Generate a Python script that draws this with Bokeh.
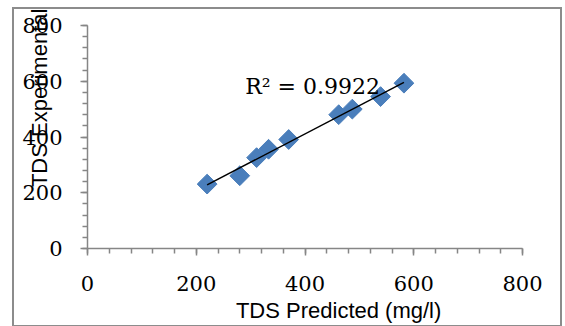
import numpy as np
from bokeh.plotting import figure
from bokeh.models import Label, Range1d, SingleIntervalTicker
from bokeh.embed import file_html
from bokeh.resources import INLINE

# Data
tds_predicted = [220, 280, 311, 333, 370, 462, 487, 539, 582]
tds_experimental = [231, 261, 326, 356, 391, 480, 500, 545, 593]
r2_text = "R\u00b2 = 0.9922"
x_title = "TDS Predicted (mg/l)"
y_title = "TDS Experimental (mg/l)"

NB = "\u00a0"

p = figure(width=546, height=316, output_backend="svg", toolbar_location=None,
           x_range=Range1d(0, 800), y_range=Range1d(0, 800),
           min_border_left=73, min_border_right=38, min_border_top=16,
           min_border_bottom=75)
p.margin = (9, 3, 1, 14)
p.styles = {"outline": "2px solid #8c8c8c"}
p.outline_line_color = None
p.grid.visible = False
p.background_fill_color = "white"
p.border_fill_color = "white"

axis_color = "#868686"
for ax in (p.xaxis[0], p.yaxis[0]):
    ax.ticker = SingleIntervalTicker(interval=200, num_minor_ticks=5)
    ax.axis_line_color = axis_color
    ax.axis_line_width = 1.5
    ax.major_tick_line_color = axis_color
    ax.minor_tick_line_color = axis_color
    ax.major_tick_line_width = 1.5
    ax.minor_tick_line_width = 1.5
    ax.major_tick_in = 0
    ax.minor_tick_in = 0
    ax.major_tick_out = 7
    ax.minor_tick_out = 5
    ax.major_label_text_font = "DejaVu Serif"
    ax.major_label_text_font_size = "21px"
    ax.major_label_text_color = "black"
    ax.axis_label_text_font = "Liberation Sans"
    ax.axis_label_text_font_size = "22px"
    ax.axis_label_text_font_style = "normal"
    ax.axis_label_text_color = "black"
    ax.axis_label_standoff_mode = "axis"
p.xaxis[0].major_label_standoff = 20
p.yaxis[0].major_label_standoff = 18

p.xaxis[0].axis_label = NB * 11 + x_title
p.xaxis[0].axis_label_align = "center"
p.xaxis[0].axis_label_standoff = 49

p.yaxis[0].axis_label = NB * 23 + y_title
p.yaxis[0].axis_label_align = "center"
p.yaxis[0].axis_label_standoff = 36

p.scatter(tds_predicted, tds_experimental, marker="square", size=14, angle=np.pi / 4,
          fill_color="#4A7EBB", line_color="#4A7EBB")

coef = np.polyfit(tds_predicted, tds_experimental, 1)
xs = np.array([min(tds_predicted), max(tds_predicted)])
p.line(xs, np.polyval(coef, xs), line_color="black", line_width=1.5)

p.add_layout(Label(x=290, y=580, text=r2_text, text_font="DejaVu Serif",
                   text_font_size="22px", text_baseline="alphabetic", text_color="black"))

open("out.html", "w").write(file_html(p, INLINE))
